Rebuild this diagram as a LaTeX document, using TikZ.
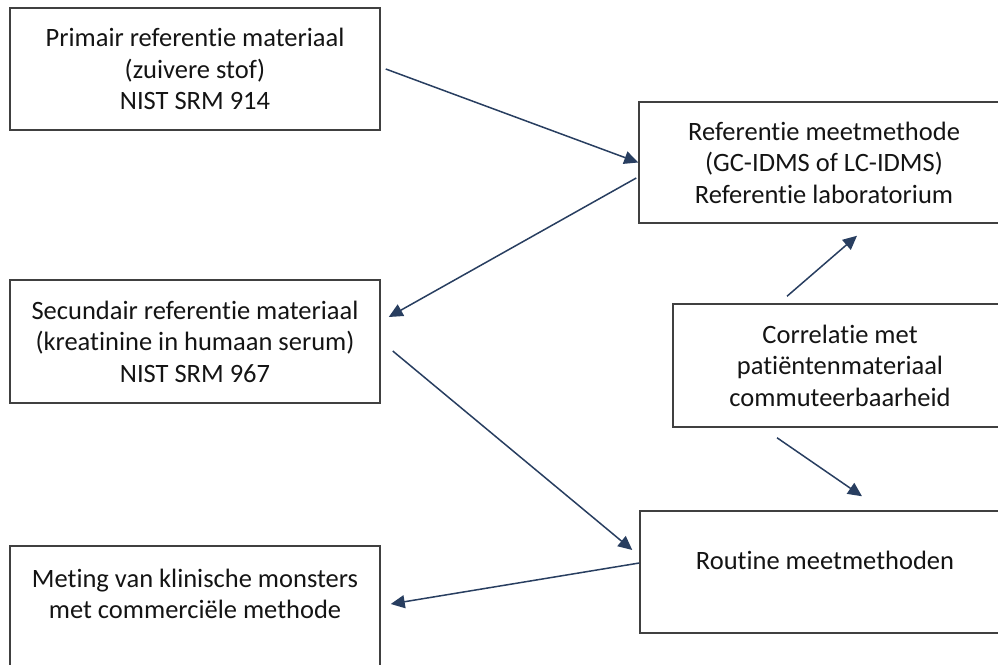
\documentclass[tikz,border=0pt]{standalone}
\usepackage{fontspec}
\setmainfont{Carlito}[Ligatures=NoCommon]
\usepackage{tikz}
\usetikzlibrary{arrows.meta}
\usetikzlibrary{positioning,calc}
\definecolor{boxgray}{RGB}{64,64,64}
\definecolor{arrowblue}{RGB}{40,62,96}
\definecolor{textgray}{RGB}{20,20,20}
\tikzset{
	every node/.style={font=\fontsize{26.5}{31.5}\selectfont,text=textgray}
}
\tikzset{
	>={Triangle[length=14pt,width=13pt]},
	main box/.style={rectangle,draw=boxgray,line width=1.5pt,align=center,inner sep=0pt},
	flow/.style={->,draw=arrowblue,line width=1.5pt}
}
\begin{document}
\begin{tikzpicture}[x=1pt,y=-1pt]
      \useasboundingbox (0,0) rectangle (998,664);
      \clip (0,0) rectangle (998,664);
      \node[main box,minimum width=370pt,minimum height=122pt] (prim) at (195,69) {Primair referentie materiaal\\(zuivere stof)\\NIST SRM 914};
      \node[main box,minimum width=370pt,minimum height=121pt] (ref) at (824,162.5) {Referentie meetmethode\\(GC-IDMS of LC-IDMS)\\Referentie laboratorium};
      \node[main box,minimum width=370pt,minimum height=123pt] (sec) at (195,341.5) {Secundair referentie materiaal\\(kreatinine in humaan serum)\\NIST SRM 967};
      \node[main box,minimum width=334pt,minimum height=123pt] (corr) at (840,365.5) {Correlatie met\\patiëntenmateriaal\\commuteerbaarheid};
      \node[main box,minimum width=370pt,minimum height=122pt,label={[yshift=12pt]center:Routine meetmethoden}] (rout) at (825,572) {};
      \node[main box,minimum width=370pt,minimum height=134pt,label={[align=center,yshift=19pt]center:Meting van klinische monsters\\met commerciële methode}] (met) at (195,613) {};
      \draw[flow] ([xshift=5pt]prim.east) -- (ref.west);
      \draw[flow] ([xshift=-2pt,yshift=-15.5pt]ref.west) -- ([xshift=8pt,yshift=24.5pt]sec.east);
      \draw[flow] ([xshift=12pt,yshift=-9.5pt]sec.east) -- ([xshift=-7pt,yshift=22pt]rout.west);
      \draw[flow] ([yshift=9pt]rout.west) -- ([xshift=10pt,yshift=9pt]met.east);
      \draw[flow] ([xshift=-53pt,yshift=7pt]corr.north) -- ([xshift=33pt,yshift=-12pt]ref.south);
      \draw[flow] ([xshift=-63pt,yshift=-10pt]corr.south) -- ([xshift=37pt,yshift=14pt]rout.north);
\end{tikzpicture}
\end{document}
